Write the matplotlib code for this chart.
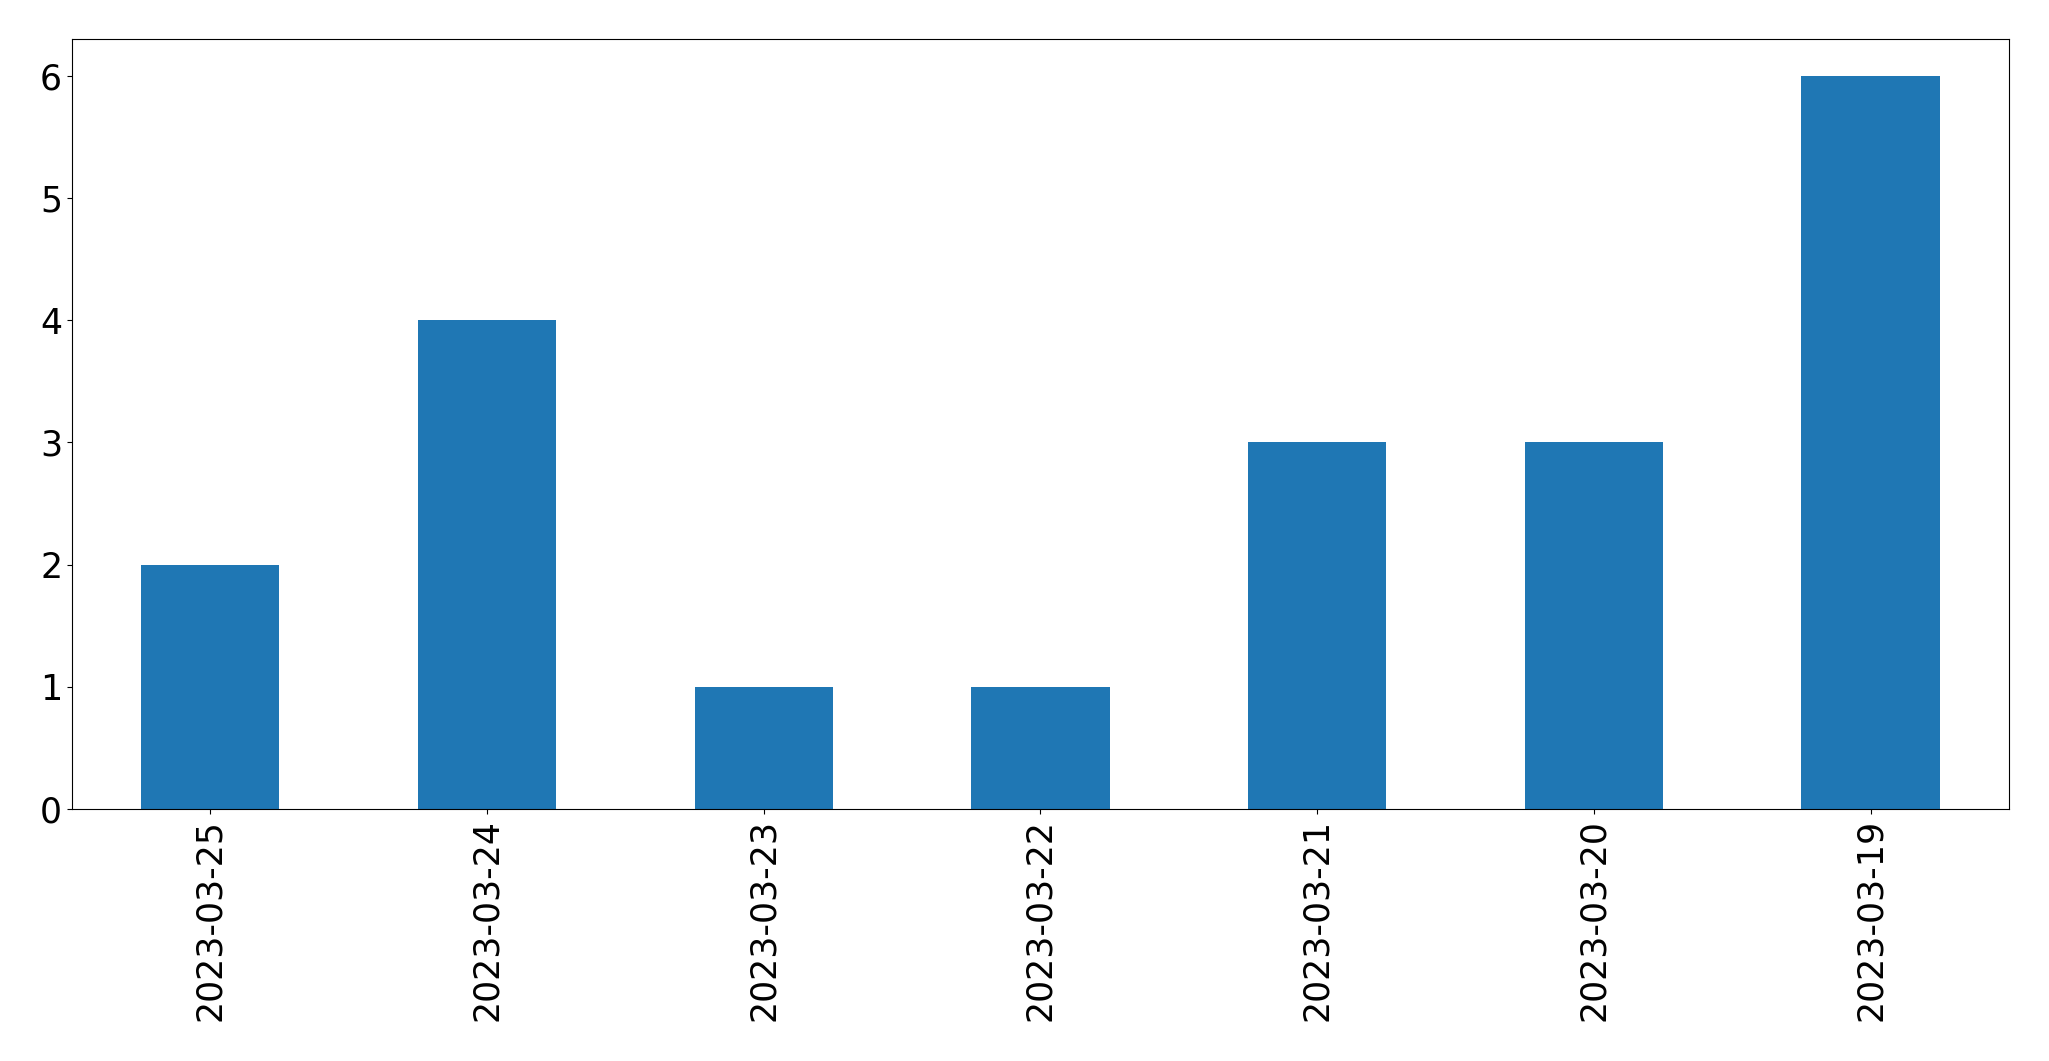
import pandas as pd
import matplotlib
matplotlib.use("Agg")
import matplotlib.pyplot as plt

dates = ["2023-03-25", "2023-03-24", "2023-03-23", "2023-03-22",
         "2023-03-21", "2023-03-20", "2023-03-19"]
counts = [2, 4, 1, 1, 3, 3, 6]

series = pd.Series(counts, index=dates)

fig = plt.figure(figsize=(20.49, 10.61), dpi=100)
ax = fig.add_subplot(111)
series.plot(kind="bar", ax=ax, fontsize=25)
plt.subplots_adjust(left=0.0351, right=0.9805, top=0.9632, bottom=0.2375)

fig.savefig("out.png", dpi=100)
